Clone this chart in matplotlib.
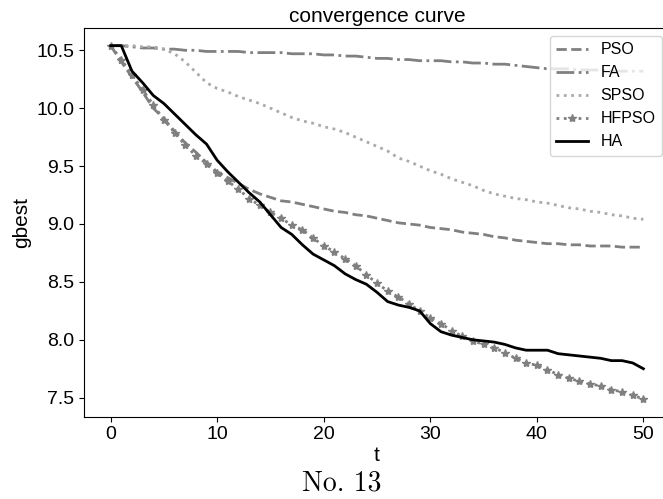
import matplotlib
matplotlib.use("Agg")
import matplotlib.pyplot as plt
import numpy as np

plt.rcParams['font.family'] = ['Liberation Sans', 'DejaVu Sans']

t = list(range(51))

PSO = [10.54, 10.40, 10.27, 10.14, 10.00, 9.91, 9.80, 9.70, 9.62, 9.53,
       9.45, 9.40, 9.35, 9.30, 9.26, 9.23, 9.20, 9.19, 9.17, 9.15,
       9.13, 9.11, 9.10, 9.08, 9.07, 9.05, 9.03, 9.01, 9.00, 8.99,
       8.97, 8.96, 8.95, 8.93, 8.92, 8.91, 8.89, 8.88, 8.86, 8.85,
       8.84, 8.83, 8.83, 8.82, 8.82, 8.81, 8.81, 8.81, 8.80, 8.80, 8.80]

FA = [10.54, 10.54, 10.53, 10.52, 10.52, 10.51, 10.51, 10.50, 10.50, 10.49,
      10.49, 10.49, 10.49, 10.48, 10.48, 10.48, 10.48, 10.47, 10.47, 10.47,
      10.46, 10.46, 10.45, 10.45, 10.44, 10.43, 10.43, 10.42, 10.42, 10.41,
      10.41, 10.41, 10.40, 10.40, 10.39, 10.39, 10.38, 10.38, 10.37, 10.36,
      10.35, 10.34, 10.34, 10.34, 10.33, 10.33, 10.33, 10.32, 10.32, 10.32, 10.32]

SPSO = [10.54, 10.54, 10.54, 10.53, 10.53, 10.51, 10.47, 10.40, 10.31, 10.22,
        10.17, 10.14, 10.10, 10.07, 10.04, 10.00, 9.96, 9.92, 9.89, 9.87,
        9.84, 9.82, 9.79, 9.75, 9.71, 9.67, 9.63, 9.57, 9.54, 9.50,
        9.46, 9.43, 9.39, 9.36, 9.33, 9.29, 9.26, 9.24, 9.22, 9.21,
        9.19, 9.18, 9.16, 9.14, 9.13, 9.11, 9.10, 9.08, 9.07, 9.05, 9.04]

HFPSO = [10.54, 10.42, 10.29, 10.16, 10.03, 9.90, 9.79, 9.68, 9.59, 9.52,
         9.44, 9.37, 9.30, 9.22, 9.16, 9.10, 9.05, 8.99, 8.95, 8.88,
         8.81, 8.76, 8.70, 8.64, 8.56, 8.49, 8.42, 8.37, 8.31, 8.25,
         8.19, 8.14, 8.08, 8.03, 7.99, 7.96, 7.93, 7.89, 7.84, 7.80,
         7.78, 7.74, 7.70, 7.67, 7.64, 7.62, 7.60, 7.57, 7.55, 7.52, 7.49]

HA = [10.54, 10.54, 10.32, 10.22, 10.11, 10.04, 9.95, 9.86, 9.77, 9.69,
      9.55, 9.45, 9.36, 9.27, 9.19, 9.08, 8.97, 8.91, 8.82, 8.74,
      8.69, 8.64, 8.57, 8.52, 8.48, 8.41, 8.33, 8.30, 8.28, 8.25,
      8.14, 8.07, 8.04, 8.02, 8.00, 7.99, 7.98, 7.96, 7.93, 7.91,
      7.91, 7.91, 7.88, 7.87, 7.86, 7.85, 7.84, 7.82, 7.82, 7.80, 7.75]

W, H = 663, 499
fig = plt.figure(figsize=(W / 100, H / 100), dpi=100)
ax = fig.add_axes([84 / W, (H - 416.5) / H, (670 - 84) / W, (416.5 - 28) / H])

ax.plot(t, PSO, linestyle='--', color='#808080', lw=2, label='PSO')
ax.plot(t, FA, linestyle='-.', color='#808080', lw=2, label='FA')
ax.plot(t, SPSO, linestyle=':', color='#aaaaaa', lw=2, label='SPSO')
ax.plot(t, HFPSO, linestyle=':', color='#808080', lw=2, marker='*',
        markersize=6, label='HFPSO')
ax.plot(t, HA, linestyle='-', color='black', lw=2, label='HA')

ax.set_xticks([0, 10, 20, 30, 40, 50])
ax.set_yticks([7.5, 8.0, 8.5, 9.0, 9.5, 10.0, 10.5])
ax.tick_params(labelsize=14)
ax.set_title('convergence curve', fontsize=15, pad=4)
ax.set_xlabel('t', fontsize=15, labelpad=2)
ax.set_ylabel('gbest', fontsize=15)
ax.legend(loc='upper right', fontsize=11.5)

fig.text(342 / W, 1 - 483 / H, 'No. 13', fontfamily='cmr10', fontsize=20,
         ha='center', va='center')

fig.savefig('out.png', dpi=100)
